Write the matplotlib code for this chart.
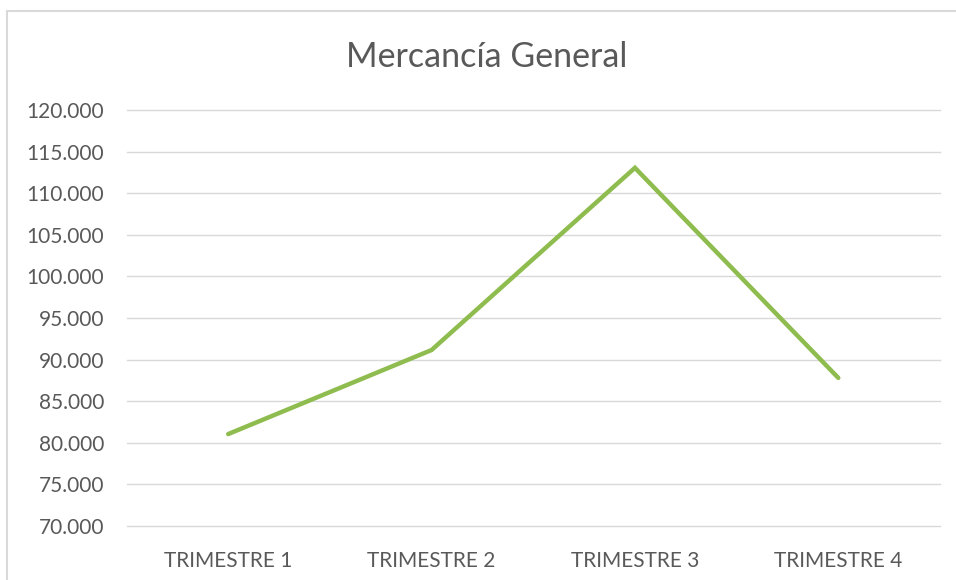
import matplotlib.pyplot as plt
from matplotlib.ticker import FuncFormatter, MultipleLocator
from matplotlib.patches import Rectangle

# Data
categories = ["TRIMESTRE 1", "TRIMESTRE 2", "TRIMESTRE 3", "TRIMESTRE 4"]
values = [81050, 91150, 113050, 87800]

plt.rcParams['font.family'] = ['Lato', 'DejaVu Sans']

text_color = "#595959"
grid_color = "#d9d9d9"
line_color = "#8fbc4f"

fig = plt.figure(figsize=(9.56, 5.8), dpi=100)
ax = fig.add_axes([126.5/956, (580-526)/580, (940-126.5)/956, (526-110)/580])

# Chart border (the image is cropped on right and bottom)
fig.patches.append(Rectangle((7/956, -0.1), 2, (580-11)/580 + 0.1,
                             transform=fig.transFigure, fill=False,
                             edgecolor=grid_color, linewidth=1.5))

x = list(range(len(categories)))
ax.plot(x, values, color=line_color, linewidth=3.2, solid_capstyle='round',
        solid_joinstyle='miter', zorder=3)

ax.set_xlim(-0.5, len(categories) - 0.5)
ax.set_ylim(70000, 120000)
ax.yaxis.set_major_locator(MultipleLocator(5000))
ax.yaxis.set_major_formatter(FuncFormatter(lambda v, p: f"{int(v):,}".replace(",", ".")))
ax.set_xticks(x)
ax.set_xticklabels(categories)

ax.grid(axis='y', color=grid_color, linewidth=1)
ax.set_axisbelow(True)
for gl in ax.get_ygridlines():
    gl.set_clip_on(False)
for s in ax.spines.values():
    s.set_visible(False)
ax.tick_params(length=0, colors=text_color, labelsize=15)
ax.tick_params(axis='y', pad=16)
ax.tick_params(axis='x', pad=18)

fig.text(487/956, (580-57)/580, "Mercancía General", ha='center', va='center',
         fontsize=24.5, color=text_color)

fig.savefig("out.png", dpi=100)
